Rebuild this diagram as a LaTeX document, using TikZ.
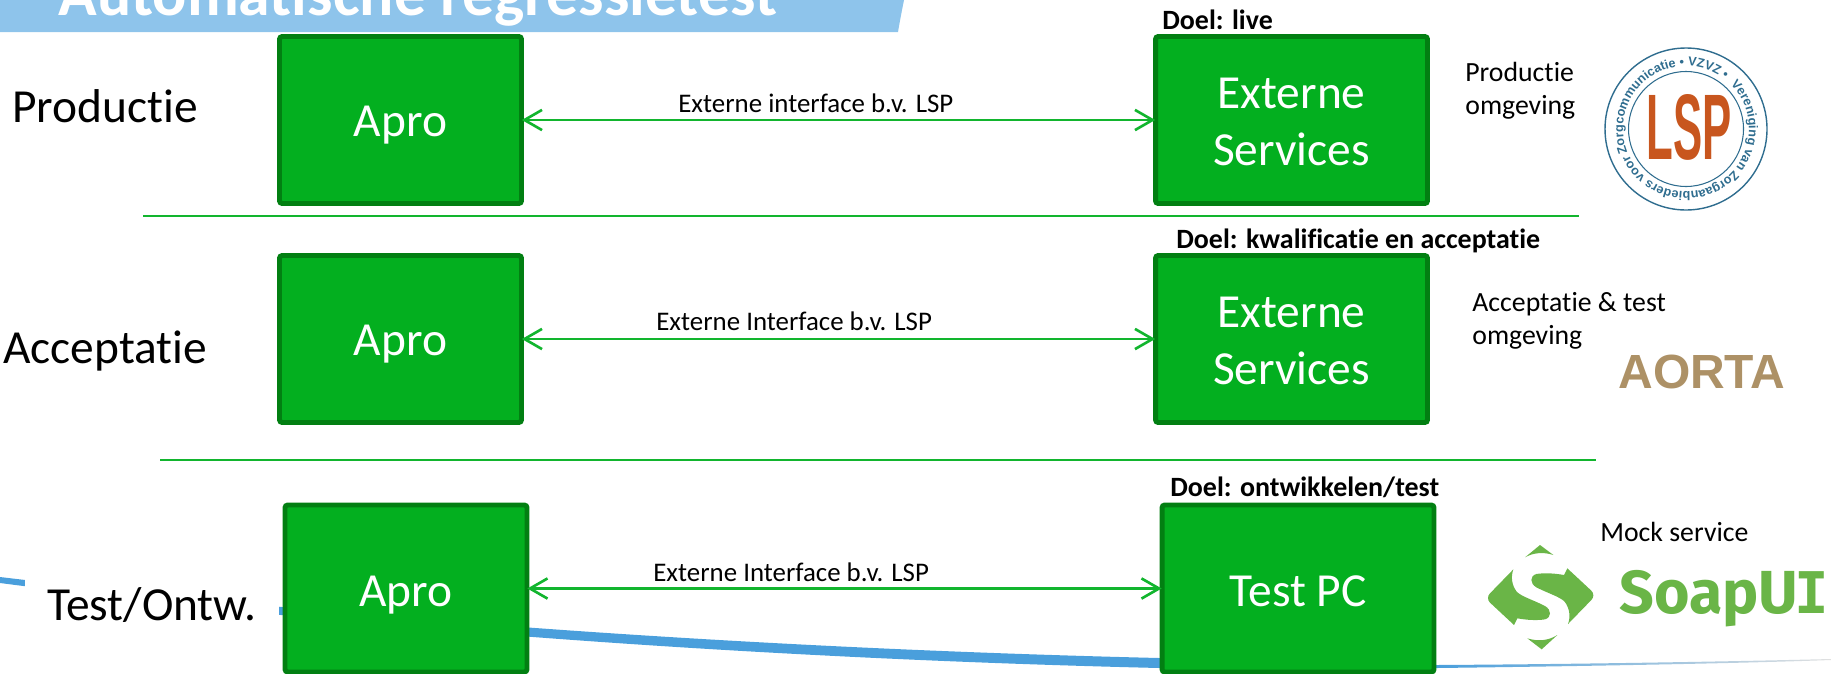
\documentclass[tikz,border=0pt]{standalone}
\usepackage{fontspec}
\setmainfont{Carlito}[Ligatures=CommonOff]
\newfontfamily\logofont{Liberation Sans}[BoldFont=* Bold]
\newfontfamily\soapfont{Fira Sans}[BoldFont=* Bold]
\newfontfamily\soapmono{DejaVu Sans Mono}[BoldFont=* Bold]
\usetikzlibrary{arrows.meta,decorations.text}
\definecolor{boxgreen}{HTML}{03AF1F}
\definecolor{boxedge}{HTML}{027F12}
\definecolor{linegreen}{HTML}{12B52E}
\definecolor{bannerblue}{HTML}{8EC4EB}
\definecolor{swooshblue}{HTML}{4A9FDC}
\definecolor{lspblue}{HTML}{2F6D8F}
\definecolor{lsporange}{HTML}{C8561E}
\definecolor{aortagold}{HTML}{AD9166}
\definecolor{soapgreen}{HTML}{6AB547}
\tikzset{>={Straight Barb[length=10pt,width=11.5pt]}}
\tikzset{
    greenbox/.style={draw=boxedge,fill=boxgreen,line width=2.8pt,rounded corners=1.5pt,text=white,
        font=\fontsize{27}{32.4}\selectfont,align=center,minimum height=3.34cm,text depth=0pt},
    aprobox/.style={greenbox,minimum width=4.84cm,text height=18.5pt},
    servicebox/.style={greenbox,minimum width=5.44cm,text height=52pt},
    flowline/.style={<->,draw=linegreen,line width=1.5pt,shorten <=-1.2pt,shorten >=-1.2pt},
    sepline/.style={draw=linegreen,line width=1.3pt},
    rowlabel/.style={anchor=base west,inner sep=0pt,font=\fontsize{27}{32.4}\selectfont},
    smalllabel/.style={anchor=base west,inner sep=0pt,font=\fontsize{15.3}{18.8}\selectfont},
    envlabel/.style={anchor=base west,inner sep=0pt,align=left,font=\fontsize{15.8}{18.6}\selectfont},
    goallabel/.style={anchor=base west,inner sep=0pt,font=\fontsize{15.9}{18.8}\selectfont\bfseries}
}

\begin{document}
\begin{tikzpicture}[x=0.02cm,y=-0.02cm]
            \useasboundingbox (0,0) rectangle (1831,673);
            \fill[swooshblue] (0,577) .. controls (300,613) and (700,647) .. (1159,658) -- (1437,665) -- (1437,668) -- (1159,668) .. controls (700,657) and (300,622) .. (0,583) -- cycle;
            \shade[left color=swooshblue,right color=black!12] (1437,665) .. controls (1600,664) and (1750,661) .. (1831,659) -- (1831,660) .. controls (1750,663) and (1600,666) .. (1437,668) -- cycle;
            \fill[bannerblue] (0,-5) -- (905,-5) .. controls (902,10) and (900,20) .. (898,32) -- (0,32) -- cycle;
            \node[anchor=base west,inner sep=0pt,text=white,font=\fontsize{36.3}{40}\selectfont\bfseries] (title) at (58,15) {Automatische regressietest};

            \node[rowlabel] (rowprod) at (12,122) {Productie};
            \node[rowlabel] (rowacc) at (3,363) {Acceptatie};
            \node[rowlabel,fill=white,inner xsep=0.44cm,inner ysep=0.3cm] (rowtest) at (25,620) {Test/Ontw.};

            \node[aprobox] (aproprod) at (400.5,120) {Apro};
            \node[servicebox] (extprod) at (1291.5,120) {Externe\\Services};
            \node[aprobox] (aproacc) at (400.5,339) {Apro};
            \node[servicebox] (extacc) at (1291.5,339) {Externe\\Services};
            \node[aprobox,text height=20.5pt] (aprotest) at (406,588.5) {Apro};
            \node[servicebox,text height=20.5pt] (pctest) at (1298,588.5) {Test PC};

            \draw[flowline] (aproprod) -- (extprod);
            \draw[flowline] (aproacc) -- (extacc);
            \draw[flowline] (aprotest) -- (pctest);

            \node[smalllabel] (ifprod) at (678,112) {Externe interface b.v. LSP};
            \node[smalllabel] (ifacc) at (656,330) {Externe Interface b.v. LSP};
            \node[smalllabel] (iftest) at (653,581) {Externe Interface b.v. LSP};

            \node[goallabel] (goalprod) at (1162,29) {Doel: live};
            \node[goallabel] (goalacc) at (1176,248) {Doel: kwalificatie en acceptatie};
            \node[goallabel] (goaltest) at (1170,496) {Doel: ontwikkelen/test};

            \coordinate (sepa) at (143,216);
            \coordinate (sepb) at (1579,216);
            \coordinate (sepc) at (160,460);
            \coordinate (sepd) at (1596,460);
            \draw[sepline] (sepa) -- (sepb);
            \draw[sepline] (sepc) -- (sepd);

            \node[envlabel] (envprod) at (1465,114.5) {Productie\\omgeving};
            \node[envlabel] (envacc) at (1472,344) {Acceptatie \& test\\omgeving};
            \node[envlabel] (envtest) at (1600,541) {Mock service};

            \draw[lspblue,line width=0.8pt] (1686,129) circle[radius=81];
            \draw[lspblue,line width=0.6pt] (1686,129) circle[radius=57.5];
            \path[decorate,decoration={text along path,text={|\logofont\bfseries\fontsize{7.2}{8}\selectfont\color{lspblue}|Vereniging van Zorgaanbieders voor Zorgcommunicatie • VZVZ • }}]
                (1686,129) ++(-45:63) arc[start angle=-45,end angle=315,radius=63];
            \node[xscale=.47,transform shape,inner sep=0pt,text=lsporange,font=\logofont\bfseries\fontsize{53}{60}\selectfont] (lsplogo) at (1689,127) {LSP};

            \node[anchor=base west,inner sep=0pt,text=aortagold,font=\logofont\bfseries\fontsize{27.3}{30}\selectfont] (aorta) at (1618,388) {AORTA};

            \begin{scope}[shift={(1470,530)},scale=1/3]
            \fill[soapgreen] (210,45) -- (250,75) .. controls (220,65) and (190,68) .. (165,82) -- cycle;
            \fill[soapgreen] (215,358) -- (172,325) .. controls (205,335) and (235,332) .. (262,315) -- cycle;
            \foreach \turn in {0,180} {
                \fill[soapgreen,rotate around={\turn:(212,200)}] (130,118) -- (60,190) .. controls (52,198) and (52,210) .. (60,218) -- (132,285) -- (142,265) .. controls (170,270) and (200,272) .. (225,268) .. controls (245,262) and (245,240) .. (225,228) .. controls (190,210) and (155,200) .. (140,185) .. controls (125,165) and (122,140) .. (130,118) -- cycle;
            }
            \end{scope}
            \node[anchor=base west,inner sep=0pt,text=soapgreen,font=\fontsize{34.6}{40}\selectfont] (soapui) at (1619,613) {\soapfont\bfseries SoapU\kern-2pt{\soapmono\bfseries\fontsize{32.7}{40}\selectfont I}};
        \end{tikzpicture}
\end{document}
